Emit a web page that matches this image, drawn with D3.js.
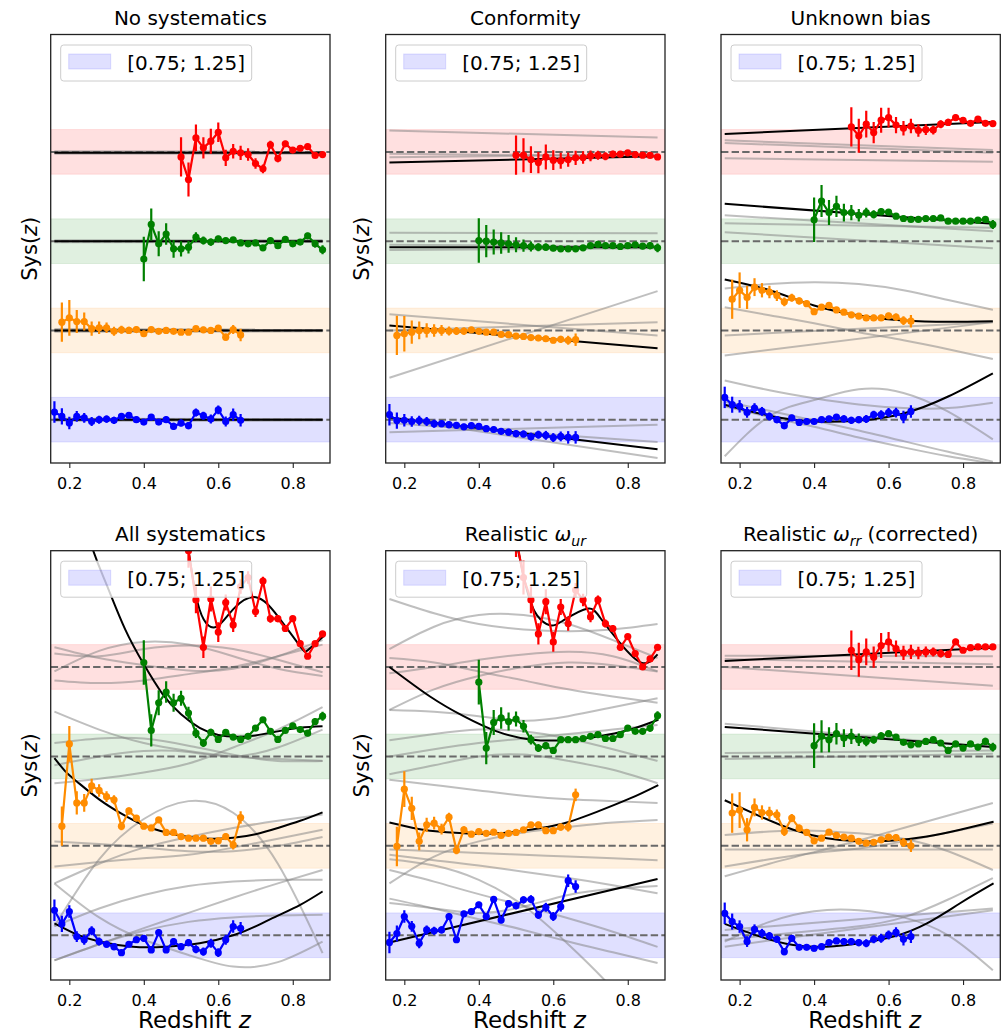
<!DOCTYPE html>
<html>
<head>
<meta charset="utf-8">
<script src="https://cdn.jsdelivr.net/npm/d3@7"></script>
<style>
  body { margin: 0; background: #ffffff; }
  text { font-family: "DejaVu Sans", sans-serif; }
</style>
</head>
<body>
<svg id="fig" width="1008" height="1033"></svg>
<script>
// ---------------------------------------------------------------------------
// Redshift bins of the four tracers (blue, orange, green, red)
// ---------------------------------------------------------------------------
const Z_BLUE   = [0.16,0.18,0.20,0.22,0.24,0.26,0.28,0.30,0.32,0.34,0.36,0.38,0.40,0.42,0.44,0.46,0.48,0.50,0.52,0.54,0.56,0.58,0.60,0.62,0.64,0.66];
const Z_ORANGE = [0.18,0.20,0.22,0.24,0.26,0.28,0.30,0.32,0.34,0.36,0.38,0.40,0.42,0.44,0.46,0.48,0.50,0.52,0.54,0.56,0.58,0.60,0.62,0.64,0.66];
const Z_GREEN  = [0.40,0.42,0.44,0.46,0.48,0.50,0.52,0.54,0.56,0.58,0.60,0.62,0.64,0.66,0.68,0.70,0.72,0.74,0.76,0.78,0.80,0.82,0.84,0.86,0.88];
const Z_RED    = [0.50,0.52,0.54,0.56,0.58,0.60,0.62,0.64,0.66,0.68,0.70,0.72,0.74,0.76,0.78,0.80,0.82,0.84,0.86,0.88];

// 1-sigma errors of the measured Sys(z) per bin
const ERR_BLUE   = [0.12,0.09,0.07,0.06,0.055,0.05,0.045,0.04,0.04,0.035,0.035,0.035,0.035,0.035,0.035,0.035,0.04,0.04,0.04,0.045,0.045,0.05,0.05,0.055,0.07,0.07];
const ERR_ORANGE = [0.22,0.2,0.13,0.1,0.08,0.07,0.06,0.05,0.045,0.04,0.035,0.035,0.03,0.03,0.03,0.03,0.03,0.03,0.03,0.035,0.035,0.035,0.04,0.05,0.07];
const ERR_GREEN  = [0.25,0.18,0.14,0.12,0.1,0.085,0.07,0.055,0.045,0.04,0.035,0.03,0.03,0.03,0.03,0.03,0.03,0.03,0.03,0.03,0.03,0.03,0.035,0.04,0.05];
const ERR_RED    = [0.22,0.19,0.15,0.12,0.14,0.11,0.09,0.08,0.08,0.07,0.06,0.05,0.045,0.04,0.035,0.03,0.03,0.03,0.025,0.025];

// ---------------------------------------------------------------------------
// Measured Sys(z) - 1, per panel, ordered [blue, orange, green, red]
// ---------------------------------------------------------------------------
const NOSYS_VALUES = [
  [0.086,0.037,-0.037,0.037,0.02,-0.02,0,0.007,-0.007,0.037,0.05,0,-0.026,0.03,-0.026,0,-0.075,-0.037,-0.067,0.08,0.045,0.007,0.11,-0.02,0.056,-0.007],
  [0.093,0.14,0.1,0.1,0.02,0.03,0.03,-0.01,0.007,0,0.01,-0.037,0.01,-0.01,0,-0.01,-0.02,-0.02,0.02,0.007,0,0.026,-0.075,0.01,-0.05],
  [-0.2,0.187,-0.03,0.08,-0.086,-0.086,-0.067,0.045,0.007,-0.01,0.026,0.007,0.015,-0.02,-0.03,-0.02,-0.075,0.007,-0.05,0.02,-0.03,-0.01,0.06,-0.03,-0.097],
  [-0.056,-0.31,0.157,0.045,0.12,0.22,-0.067,0.007,-0.01,-0.03,-0.13,-0.19,0.08,-0.075,0.09,0.02,0.04,0.06,-0.04,-0.03]
];
const CONF_VALUES = [
  [0.056,-0.01,-0.007,-0.02,-0.01,-0.02,-0.045,-0.045,-0.056,-0.063,-0.08,-0.067,-0.075,-0.1,-0.11,-0.13,-0.14,-0.157,-0.16,-0.19,-0.168,-0.175,-0.2,-0.187,-0.198,-0.198],
  [-0.056,-0.037,-0.02,0,0,0,0,-0.007,-0.007,-0.007,0.007,-0.01,-0.02,-0.02,-0.045,-0.048,-0.063,-0.067,-0.08,-0.085,-0.093,-0.11,-0.1,-0.11,-0.104],
  [0.007,0,-0.01,-0.02,-0.03,-0.04,-0.05,-0.06,-0.067,-0.067,-0.078,-0.086,-0.086,-0.086,-0.075,-0.05,-0.037,-0.05,-0.05,-0.06,-0.05,-0.04,-0.056,-0.05,-0.075],
  [-0.037,-0.037,-0.086,-0.12,-0.056,-0.093,-0.1,-0.086,-0.067,-0.063,-0.045,-0.037,-0.05,-0.026,-0.026,-0.01,-0.03,-0.037,-0.04,-0.056]
];
const UNK_VALUES = [
  [0.25,0.168,0.15,0.082,0.13,0.093,0.037,0,-0.067,0.02,-0.03,-0.02,-0.02,0,0.01,0.03,0.01,-0.007,0,0.007,0.056,0.056,0.08,0.08,0.03,0.093],
  [0.35,0.45,0.37,0.485,0.45,0.43,0.39,0.32,0.366,0.33,0.3,0.21,0.26,0.28,0.23,0.205,0.175,0.16,0.14,0.14,0.14,0.164,0.15,0.11,0.104],
  [0.24,0.45,0.32,0.39,0.32,0.32,0.29,0.32,0.3,0.33,0.325,0.28,0.254,0.243,0.243,0.254,0.254,0.26,0.224,0.224,0.224,0.224,0.235,0.243,0.187],
  [0.28,0.18,0.31,0.216,0.355,0.384,0.3,0.265,0.29,0.24,0.25,0.246,0.31,0.33,0.384,0.354,0.32,0.366,0.32,0.317]
];
const ALL_VALUES = [
  [0.28,0.127,0.265,-0.015,-0.05,0.05,-0.07,-0.1,-0.127,-0.194,-0.1,-0.05,-0.034,-0.164,0.03,-0.164,-0.07,-0.127,-0.082,-0.157,-0.183,-0.09,-0.194,-0.05,0.097,0.078],
  [0.22,1.14,0.48,0.48,0.67,0.62,0.55,0.515,0.22,0.39,0.31,0.22,0.2,0.29,0.15,0.15,0.104,0.086,0.086,0.086,0.05,0.056,0.104,0.01,0.317],
  [1.05,0.29,0.6,0.72,0.6,0.65,0.485,0.26,0.15,0.27,0.19,0.27,0.216,0.19,0.224,0.317,0.41,0.28,0.19,0.29,0.343,0.3,0.26,0.39,0.45],
  [1.6,1.3,0.75,0.22,0.76,0.39,0.72,0.47,0.9,1.0,0.62,0.96,0.54,0.54,0.43,0.54,0.26,0.12,0.26,0.37]
];
const UR_VALUES = [
  [-0.08,0.02,0.21,0.1,-0.09,0.06,0.05,0.06,0.21,-0.05,0.24,0.265,0.34,0.21,0.403,0.17,0.354,0.33,0.396,0.403,0.228,0.313,0.21,0.32,0.61,0.545],
  [-0.007,0.634,0.42,0.05,0.235,0.254,0.187,0.32,-0.05,0.18,0.13,0.16,0.14,0.153,0.116,0.14,0.15,0.18,0.235,0.235,0.17,0.17,0.21,0.21,0.57],
  [0.83,0.093,0.38,0.43,0.39,0.418,0.336,0.187,0.093,0.12,0.067,0.187,0.187,0.187,0.2,0.224,0.243,0.2,0.2,0.243,0.317,0.28,0.28,0.317,0.455],
  [1.45,1.0,0.75,0.37,0.73,0.28,0.67,0.485,0.86,0.75,0.56,0.75,0.485,0.43,0.22,0.34,0.15,0.0,0.09,0.22]
];
const RR_VALUES = [
  [0.246,0.153,0.097,-0.07,0.067,0.022,-0.007,-0.045,-0.183,-0.034,-0.134,-0.134,-0.145,-0.127,-0.082,-0.063,-0.07,-0.07,-0.082,-0.09,-0.045,-0.034,0.004,0.034,-0.045,-0.015],
  [0.366,0.4,0.18,0.43,0.373,0.366,0.347,0.16,0.31,0.198,0.15,0.056,0.086,0.153,0.116,0.097,0.086,0.05,0.03,0.04,0.067,0.097,0.093,0.037,0],
  [0.12,0.224,0.187,0.254,0.205,0.224,0.187,0.168,0.187,0.23,0.254,0.216,0.157,0.13,0.14,0.168,0.187,0.15,0.067,0.14,0.093,0.14,0.104,0.168,0.104],
  [0.187,0.082,0.168,0.11,0.24,0.28,0.205,0.157,0.168,0.157,0.168,0.168,0.15,0.14,0.28,0.187,0.216,0.224,0.224,0.224]
];

// ---------------------------------------------------------------------------
// Best-fit Sys(z) - 1 curves as [z, value] knots, [blue, orange, green, red]
// ---------------------------------------------------------------------------
const NOSYS_FITS = [
  [[0.16,0],[0.88,0]],
  [[0.16,0],[0.88,0]],
  [[0.16,0],[0.88,0]],
  [[0.16,-0.01],[0.88,-0.01]]
];
const CONF_FITS = [
  [[0.16,0.026],[0.88,-0.33]],
  [[0.16,0.056],[0.88,-0.2]],
  [[0.16,-0.067],[0.88,-0.067]],
  [[0.16,-0.12],[0.88,-0.05]]
];
const UNK_FITS = [
  [[0.16,0.168],[0.28,0.045],[0.40,-0.02],[0.52,-0.01],[0.64,0.07],[0.76,0.26],[0.88,0.52]],
  [[0.16,0.57],[0.28,0.45],[0.40,0.28],[0.52,0.168],[0.64,0.112],[0.76,0.097],[0.88,0.104]],
  [[0.16,0.418],[0.88,0.194]],
  [[0.16,0.2],[0.88,0.336]]
];
const ALL_FITS = [
  [[0.16,0.134],[0.22,0.01],[0.28,-0.07],[0.37,-0.127],[0.46,-0.127],[0.55,-0.09],[0.64,0.0],[0.70,0.1],[0.76,0.22],[0.82,0.34],[0.88,0.49]],
  [[0.16,0.98],[0.19,0.83],[0.22,0.72],[0.28,0.52],[0.34,0.36],[0.40,0.23],[0.46,0.15],[0.52,0.1],[0.58,0.08],[0.64,0.09],[0.70,0.13],[0.76,0.2],[0.82,0.28],[0.88,0.375]],
  [[0.20,3.15],[0.26,2.35],[0.30,1.92],[0.35,1.42],[0.40,1.03],[0.45,0.70],[0.50,0.47],[0.55,0.32],[0.60,0.24],[0.65,0.22],[0.70,0.235],[0.76,0.28],[0.82,0.32],[0.88,0.336]],
  [[0.46,3.0],[0.49,2.1],[0.52,1.3],[0.539,0.82],[0.561,0.53],[0.596,0.45],[0.641,0.65],[0.701,0.78],[0.761,0.56],[0.82,0.23],[0.841,0.19],[0.882,0.34]]
];
const UR_FITS = [
  [[0.16,-0.08],[0.88,0.63]],
  [[0.16,0.26],[0.224,0.2],[0.269,0.17],[0.359,0.14],[0.448,0.14],[0.538,0.18],[0.582,0.21],[0.627,0.25],[0.672,0.31],[0.717,0.38],[0.806,0.53],[0.882,0.68]],
  [[0.16,1.0],[0.269,0.67],[0.359,0.45],[0.448,0.28],[0.538,0.19],[0.627,0.18],[0.717,0.22],[0.806,0.3],[0.882,0.41]],
  [[0.46,2.3],[0.49,1.65],[0.506,1.3],[0.53,0.85],[0.556,0.58],[0.591,0.466],[0.627,0.52],[0.69,0.65],[0.726,0.55],[0.779,0.27],[0.838,0.045],[0.88,0.14]]
];
const RR_FITS = [
  [[0.16,0.127],[0.255,-0.015],[0.344,-0.108],[0.434,-0.127],[0.523,-0.09],[0.613,-0.015],[0.703,0.134],[0.792,0.358],[0.882,0.58]],
  [[0.16,0.51],[0.255,0.33],[0.344,0.18],[0.434,0.086],[0.523,0.05],[0.613,0.06],[0.703,0.104],[0.792,0.18],[0.882,0.27]],
  [[0.16,0.33],[0.88,0.104]],
  [[0.16,0.067],[0.88,0.216]]
];

// ---------------------------------------------------------------------------
// Posterior sample curves (Sys(z) - 1). Two values sit on SPAN_Z,
// seven values on SAMPLE_Z.
// ---------------------------------------------------------------------------
const SPAN_Z   = [0.16, 0.88];
const SAMPLE_Z = [0.16, 0.28, 0.40, 0.52, 0.64, 0.76, 0.88];

const NOSYS_SAMPLES = [
  [[0.012,0.008],[-0.012,-0.01],[0.004,0.0]],
  [[0.015,0.01],[-0.015,-0.01],[0.0,0.004]],
  [[0.01,0.012],[-0.012,-0.01],[0.003,-0.002]],
  [[0.006,0.004],[-0.02,-0.02],[-0.004,-0.008]]
];
const CONF_SAMPLES = [
  [[-0.14,-0.056],[-0.037,-0.25],[0.02,-0.43]],
  [[0.18,-0.056],[-0.53,0.44],[0.0,0.093]],
  [[0.095,0.09],[-0.04,-0.06],[-0.1,-0.08]],
  [[0.24,0.16],[-0.02,-0.05],[-0.06,-0.03]]
];
const UNK_SAMPLES = [
  [[0.44,0.33,0.24,0.17,0.13,0.13,0.19],[-0.41,0.04,0.22,0.34,0.3,0.09,-0.22],[0.2,0.1,-0.01,-0.12,-0.24,-0.36,-0.47],[0.15,0.03,-0.08,-0.2,-0.31,-0.41,-0.49]],
  [[0.47,0.52,0.54,0.52,0.45,0.34,0.23],[0.26,0.17,0.08,-0.02,-0.11,-0.21,-0.32],[-0.056,0.093],[-0.28,0.093]],
  [[0.29,0.11],[0.2,0.15],[0.1,-0.08]],
  [[0.13,0.02],[-0.07,-0.11],[0.1,-0.01]]
];
const ALL_SAMPLES = [
  [[-0.28,-0.1,0.08,0.25,0.42,0.58,0.73],[0.58,0.2,-0.05,-0.22,-0.35,-0.3,-0.07],[-0.28,-0.1,0.05,0.15,0.2,0.22,0.23],[0.1,0.3,0.45,0.55,0.6,0.62,0.62]],
  [[-0.23,-0.18,-0.14,-0.1,-0.02,0.08,0.18],[-0.9,-0.15,0.3,0.5,0.37,-0.2,-1.2],[-0.42,-0.2,-0.02,0.1,0.2,0.28,0.35],[0.05,0.02,-0.02,-0.06,-0.06,0.0,0.1]],
  [[0.5,0.3,0.15,0.06,0.0,-0.03,-0.05],[-0.3,-0.25,-0.18,-0.08,0.1,0.3,0.55],[0.15,0.2,0.2,0.12,0.02,-0.05,-0.05],[-0.1,0.0,0.06,0.05,0.0,0.1,0.3]],
  [[0.15,0.12,0.2,0.24,0.2,0.08,-0.06],[0.22,0.1,0.02,-0.04,-0.02,0.12,0.3],[-0.15,-0.18,-0.15,-0.08,0.0,0.12,0.25],[-0.05,0.18,0.28,0.25,0.12,-0.02,-0.1]]
];
const UR_SAMPLES = [
  [[0.73,0.6,0.46,0.33,0.19,0.04,-0.13],[0.41,0.3,0.18,0.06,-0.07,-0.19,-0.31],[0.36,0.3,0.25,0.32,0.45,0.52,0.55],[0.85,0.78,0.62,0.33,-0.1,-0.6,-1.2]],
  [[0.74,0.68,0.62,0.56,0.52,0.5,0.48],[-0.04,-0.06,-0.08,-0.1,-0.12,-0.14,-0.16],[-0.42,-0.12,0.05,0.15,0.21,0.26,0.29],[-0.1,-0.16,-0.22,-0.29,-0.36,-0.44,-0.53]],
  [[0.52,0.5,0.45,0.4,0.45,0.55,0.65],[0.18,0.25,0.3,0.28,0.2,0.08,-0.05],[0.0,0.08,0.15,0.2,0.25,0.3,0.35],[-0.2,-0.1,0.0,0.02,-0.05,-0.15,-0.3]],
  [[0.76,0.6,0.48,0.42,0.4,0.42,0.48],[0.2,0.45,0.58,0.58,0.48,0.3,0.1],[-0.07,0.0,0.08,0.14,0.17,0.12,-0.05],[-0.48,-0.25,-0.1,0.0,0.05,0.02,-0.05],[0.1,0.05,-0.05,-0.15,-0.25,-0.33,-0.4]]
];
const RR_SAMPLES = [
  [[-0.127,0.28],[-0.07,0.15,0.27,0.28,0.2,0.0,-0.39],[-0.05,0.0,0.05,0.1,0.2,0.4,0.64],[0.06,0.3]],
  [[0.12,0.16,0.17,0.14,0.08,-0.06,-0.27],[-0.34,-0.2,-0.07,0.06,0.2,0.34,0.48],[-0.23,-0.15,-0.08,-0.03,0.05,0.15,0.25],[-0.04,-0.04]],
  [[0.366,0.104],[0.037,0.067],[-0.03,0.03]],
  [[0.125,0.12],[0.09,0.03],[0.0,-0.21]]
];

// Axis ticks, band and legend text
const X_TICKS = [0.2, 0.4, 0.6, 0.8];
const BAND_HALF = 0.25;
const LEGEND_LABEL = "[0.75; 1.25]";

// ---------------------------------------------------------------------------
// Layout and style
// ---------------------------------------------------------------------------
const TRACER_COLORS = ["#0000ff", "#ff8c00", "#008000", "#ff0000"];
const Z_BY_TRACER = [Z_BLUE, Z_ORANGE, Z_GREEN, Z_RED];
const ERR_BY_TRACER = [ERR_BLUE, ERR_ORANGE, ERR_GREEN, ERR_RED];
const Z_DOMAIN = [0.15, 0.9];
const COL_LEFT = [50.7, 385.7, 721];
const AX_W = 279.3;
const ROWS = [
  { top: 34.5, bottom: 463, domain: [0.515, 5.315] },
  { top: 550.7, bottom: 980, domain: [0.5, 5.3] }
];
const YLABEL_X = [37, 368.5, null];
const LABEL_SIZE = 21;
const XLABEL_SIZE = 23;
const XLABEL_Y = 1027.5;

const PANELS = [
  { title: [{ t: "No systematics" }], values: NOSYS_VALUES, fits: NOSYS_FITS, samples: NOSYS_SAMPLES, row: 0, col: 0 },
  { title: [{ t: "Conformity" }], values: CONF_VALUES, fits: CONF_FITS, samples: CONF_SAMPLES, row: 0, col: 1 },
  { title: [{ t: "Unknown bias" }], values: UNK_VALUES, fits: UNK_FITS, samples: UNK_SAMPLES, row: 0, col: 2 },
  { title: [{ t: "All systematics" }], values: ALL_VALUES, fits: ALL_FITS, samples: ALL_SAMPLES, row: 1, col: 0 },
  { title: [{ t: "Realistic " }, { t: "ω", it: true }, { t: "ur", it: true, sub: true }], values: UR_VALUES, fits: UR_FITS, samples: UR_SAMPLES, row: 1, col: 1 },
  { title: [{ t: "Realistic " }, { t: "ω", it: true }, { t: "rr", it: true, sub: true }, { t: " (corrected)" }], values: RR_VALUES, fits: RR_FITS, samples: RR_SAMPLES, row: 1, col: 2 }
];

const svg = d3.select("#fig");
const defs = svg.append("defs");

function addRichText(sel, parts, size) {
  let shifted = false;
  parts.forEach(p => {
    const ts = sel.append("tspan").text(p.t);
    if (p.it) ts.attr("font-style", "italic");
    if (p.sub) {
      ts.attr("font-size", size * 0.7).attr("dy", size * 0.22);
      shifted = true;
    } else if (shifted) {
      ts.attr("dy", -size * 0.22);
      shifted = false;
    }
  });
}

PANELS.forEach((p, pi) => {
  const left = COL_LEFT[p.col], right = left + AX_W;
  const row = ROWS[p.row];
  const x = d3.scaleLinear().domain(Z_DOMAIN).range([left, right]);
  const y = d3.scaleLinear().domain(row.domain).range([row.bottom, row.top]);

  const g = svg.append("g");
  defs.append("clipPath").attr("id", "clip" + pi)
    .append("rect").attr("x", left).attr("y", row.top)
    .attr("width", AX_W).attr("height", row.bottom - row.top);
  const plot = g.append("g").attr("clip-path", `url(#clip${pi})`);

  // tolerance bands around each tracer's unit level
  TRACER_COLORS.forEach((c, k) => {
    const lvl = k + 1;
    plot.append("rect")
      .attr("x", left).attr("width", AX_W)
      .attr("y", y(lvl + BAND_HALF))
      .attr("height", y(lvl - BAND_HALF) - y(lvl + BAND_HALF))
      .attr("fill", c).attr("fill-opacity", 0.12)
      .attr("stroke", c).attr("stroke-opacity", 0.1).attr("stroke-width", 1);
  });

  const smooth = k => d3.line()
    .x(d => x(d[0]))
    .y(d => y(k + 1 + d[1]))
    .curve(d3.curveNatural);

  // posterior samples
  p.samples.forEach((curves, k) => {
    curves.forEach(vs => {
      const zs = vs.length === 2 ? SPAN_Z : SAMPLE_Z;
      plot.append("path")
        .datum(vs.map((v, i) => [zs[i], v]))
        .attr("d", smooth(k))
        .attr("fill", "none")
        .attr("stroke", "#808080").attr("stroke-opacity", 0.5)
        .attr("stroke-width", 2);
    });
  });

  // unit reference levels
  TRACER_COLORS.forEach((c, k) => {
    plot.append("line")
      .attr("x1", x(Z_DOMAIN[0])).attr("x2", x(Z_DOMAIN[1]))
      .attr("y1", y(k + 1)).attr("y2", y(k + 1))
      .attr("stroke", "#696969").attr("stroke-width", 2)
      .attr("stroke-dasharray", "7.4,3.2");
  });

  // best fits
  p.fits.forEach((pts, k) => {
    plot.append("path")
      .datum(pts)
      .attr("d", smooth(k))
      .attr("fill", "none")
      .attr("stroke", "#000").attr("stroke-width", 2);
  });

  // measurements with error bars
  TRACER_COLORS.forEach((c, k) => {
    const pts = Z_BY_TRACER[k].map((z, i) => ({ z, v: p.values[k][i], e: ERR_BY_TRACER[k][i] }));
    const lvl = k + 1;
    const tg = plot.append("g");
    tg.selectAll("line.err").data(pts).join("line")
      .attr("class", "err")
      .attr("x1", d => x(d.z)).attr("x2", d => x(d.z))
      .attr("y1", d => y(lvl + d.v - d.e)).attr("y2", d => y(lvl + d.v + d.e))
      .attr("stroke", c).attr("stroke-width", 2.2);
    tg.append("path")
      .datum(pts)
      .attr("d", d3.line().x(d => x(d.z)).y(d => y(lvl + d.v)))
      .attr("fill", "none").attr("stroke", c).attr("stroke-width", 2.2)
      .attr("stroke-linejoin", "round");
    tg.selectAll("circle").data(pts).join("circle")
      .attr("cx", d => x(d.z)).attr("cy", d => y(lvl + d.v))
      .attr("r", 3.6).attr("fill", c);
  });

  // legend
  const lg = g.append("g").attr("transform", `translate(${left + 10},${row.top + 10.5})`);
  lg.append("rect").attr("width", 191).attr("height", 36).attr("rx", 3)
    .attr("fill", "#fff").attr("fill-opacity", 0.8)
    .attr("stroke", "#cccccc").attr("stroke-width", 1);
  lg.append("rect").attr("x", 8).attr("y", 9).attr("width", 42).attr("height", 15)
    .attr("fill", TRACER_COLORS[0]).attr("fill-opacity", 0.12)
    .attr("stroke", TRACER_COLORS[0]).attr("stroke-opacity", 0.12);
  lg.append("text").attr("x", 66.6).attr("y", 25)
    .attr("font-size", 20).attr("fill", "#000").text(LEGEND_LABEL);

  // frame
  g.append("rect").attr("x", left).attr("y", row.top)
    .attr("width", AX_W).attr("height", row.bottom - row.top)
    .attr("fill", "none").attr("stroke", "#222").attr("stroke-width", 1.3);

  // x axis
  const ax = g.append("g").attr("transform", `translate(0,${row.bottom})`)
    .call(d3.axisBottom(x).tickValues(X_TICKS).tickFormat(d3.format(".1f"))
      .tickSize(5).tickSizeOuter(0).tickPadding(10));
  ax.select(".domain").remove();
  ax.attr("font-family", "DejaVu Sans").attr("font-size", 16);
  ax.selectAll(".tick line").attr("stroke", "#222").attr("stroke-width", 1.1);
  ax.selectAll(".tick text").attr("fill", "#000");

  // title
  const title = g.append("text")
    .attr("x", (left + right) / 2).attr("y", row.top - 9.5)
    .attr("text-anchor", "middle").attr("font-size", 20).attr("fill", "#000");
  addRichText(title, p.title, 20);

  // y label
  if (YLABEL_X[p.col] !== null) {
    const cy = (row.top + row.bottom) / 2;
    const yl = g.append("text")
      .attr("transform", `translate(${YLABEL_X[p.col]},${cy}) rotate(-90)`)
      .attr("text-anchor", "middle").attr("font-size", LABEL_SIZE).attr("fill", "#000");
    addRichText(yl, [{ t: "Sys(" }, { t: "z", it: true }, { t: ")" }], LABEL_SIZE);
  }

  // x label on the lower row
  if (p.row === 1) {
    const xl = g.append("text")
      .attr("x", (left + right) / 2 + 4).attr("y", XLABEL_Y)
      .attr("text-anchor", "middle").attr("font-size", XLABEL_SIZE).attr("fill", "#000");
    addRichText(xl, [{ t: "Redshift " }, { t: "z", it: true }], XLABEL_SIZE);
  }
});
</script>
</body>
</html>
